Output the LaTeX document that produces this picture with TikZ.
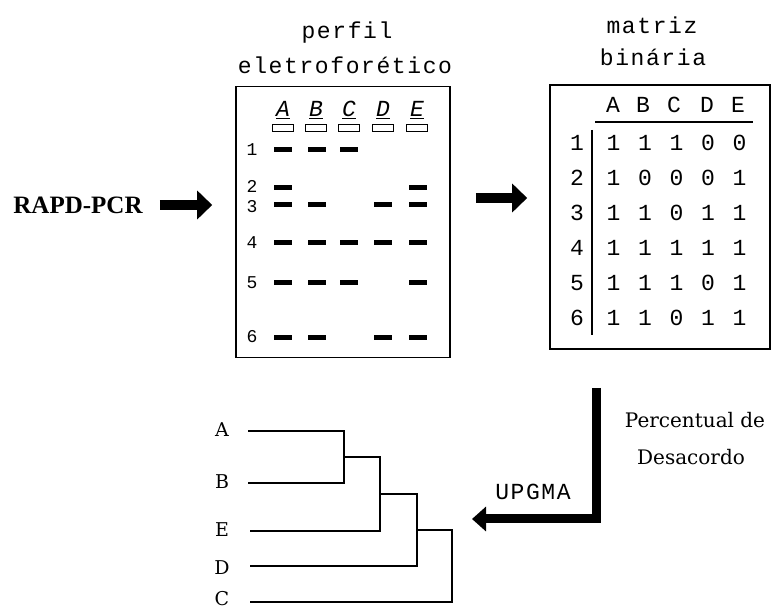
\documentclass[tikz,border=0pt]{standalone}
\usepackage{fontspec}
\setmainfont{Liberation Serif}
\newfontfamily\cour[LetterSpace=7]{Liberation Mono}
\newfontfamily\courplain{Liberation Mono}
\newfontfamily\dvserif{DejaVu Serif}
\usetikzlibrary{arrows.meta}

\tikzset{
  ttl/.style={font=\cour\fontsize{23}{26}\selectfont, inner sep=0},
  cell/.style={font=\courplain\fontsize{23}{26}\selectfont, inner sep=0},
  gelbox/.style={draw, line width=1.6pt, minimum width=214pt, minimum height=271pt, inner sep=0},
  matbox/.style={draw, line width=1.6pt, minimum width=220pt, minimum height=264pt, inner sep=0},
  lane/.style={font=\courplain\itshape\fontsize{23}{26}\selectfont, inner sep=0},
  well/.style={draw, line width=1.3pt, minimum width=21pt, minimum height=7pt, inner sep=0},
  band/.style={fill=black, minimum width=18pt, minimum height=5pt, inner sep=0},
  gelnum/.style={font=\courplain\fontsize{18}{20}\selectfont, inner sep=0},
  bigarrow/.style={line width=10pt, -{Triangle[length=15pt,width=28pt]}},
  bendarrow/.style={line width=9pt, line join=miter, -{Triangle[length=14pt,width=24pt]}},
  tree/.style={line width=1.4pt},
  leaf/.style={font=\dvserif\fontsize{19}{22}\selectfont, inner sep=0}
}

\begin{document}
\begin{tikzpicture}[x=1pt,y=-1pt]
\useasboundingbox (0,0) rectangle (772,612);

% titles
\node[ttl] (t1) at (347,33) {perfil};
\node[ttl] (t2) at (345,65) {eletroforético};
\node[ttl] (m1) at (652,25) {matriz};
\node[ttl] (m2) at (653,57) {binária};

% gel
\node[gelbox] (gel) at (343,222) {};
\foreach \l/\x in {A/283,B/316,C/349,D/383,E/417}{
  \node[lane] (lane\l) at (\x,110) {\underline{\l}};
  \node[well] (well\l) at (\x,128) {};
}
\foreach \r/\y in {1/150,2/186,3/207,4/243,5/283,6/337}
  \node[gelnum] (g\r) at (252,\y) {\r};
\foreach \y/\xs in {150/{283,317,349}, 188/{283,418}, 205/{283,317,383,418},
                    243/{283,317,349,383,418}, 283/{283,317,349,418}, 338/{283,317,383,418}}{
  \foreach \x in \xs \node[band] at (\x,\y) {};
}

% matrix
\node[matbox] (mat) at (660,217) {};
\foreach \l/\x in {A/613,B/643,C/674,D/707,E/738}
  \node[cell] (h\l) at (\x,105) {\l};
\draw[line width=1.2pt] (595,122) -- (753,122);
\draw[line width=1.2pt] (592,130) -- (592,335);
\foreach \r/\y/\vals in {1/143/{1,1,1,0,0}, 2/178/{1,0,0,0,1}, 3/213/{1,1,0,1,1},
                         4/248/{1,1,1,1,1}, 5/283/{1,1,1,0,1}, 6/318/{1,1,0,1,1}}{
  \node[cell] (r\r) at (577,\y) {\r};
  \foreach \v [count=\c] in \vals \node[cell] at (582+31.5*\c,\y) {\v};
}

% RAPD-PCR and arrows
\node[font=\bfseries\fontsize{25}{28}\selectfont, inner sep=0] (rapd) at (78,205) {RAPD-PCR};
\draw[bigarrow, shorten <=17pt, shorten >=23pt] (rapd.east) -- ([yshift=17pt]gel.west);
\draw[bigarrow, shorten <=25pt, shorten >=22pt] ([yshift=24pt]gel.east) -- ([yshift=19pt]mat.west);

\coordinate (upg) at (596,388);
\coordinate (treeR) at (472,519);
\draw[bendarrow] (upg) |- (treeR);
\node[ttl] (upgma) at (533,492) {UPGMA};
\node[font=\dvserif\fontsize{20}{22}\selectfont, inner sep=0] (pct1) at (695,420) {Percentual de};
\node[font=\dvserif\fontsize{20}{22}\selectfont, inner sep=0] (pct2) at (691,457) {Desacordo};

% dendrogram
\foreach \l/\y in {A/430,B/482,E/530,D/568,C/599}
  \node[leaf] (leaf\l) at (222,\y) {\l};
\draw[tree] (248,431) -| (344,483) -- (248,483);
\draw[tree] (344,457) -| (380,531) -- (250,531);
\draw[tree] (380,494) -| (417,566) -- (250,566);
\draw[tree] (417,530) -| (452,602) -- (250,602);
\end{tikzpicture}
\end{document}
